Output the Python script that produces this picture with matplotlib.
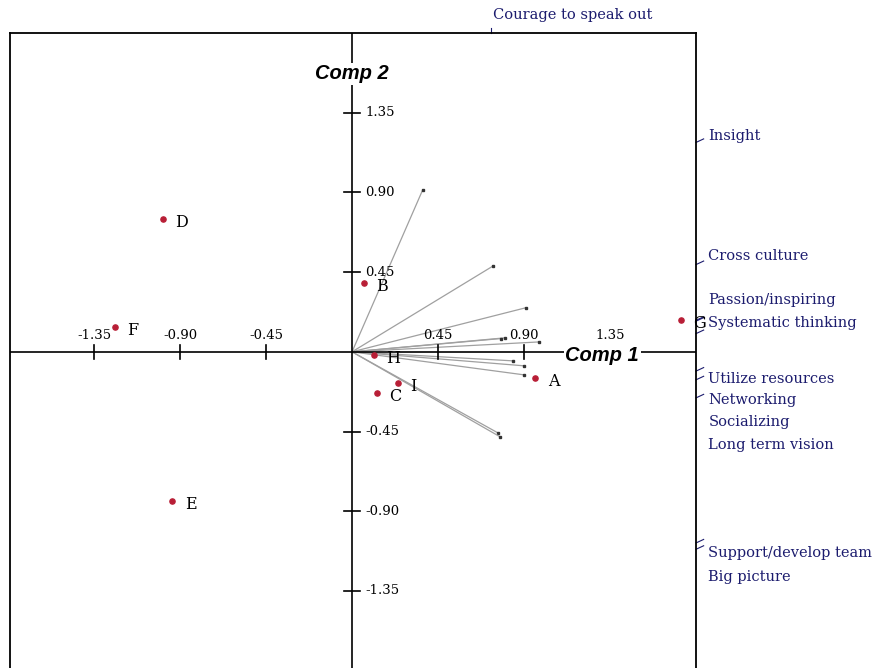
import matplotlib
matplotlib.use("Agg")
import matplotlib.pyplot as plt

# observations (scores on comp 1 / comp 2)
obs_names = ["A", "B", "C", "D", "E", "F", "G", "H", "I"]
obs_x = [0.96, 0.06, 0.13, -0.99, -0.94, -1.24, 1.72, 0.115, 0.24]
obs_y = [-0.147, 0.39, -0.23, 0.75, -0.84, 0.14, 0.18, -0.02, -0.175]

# variable loadings (arrow tips)
var_x = [0.37, 0.74, 0.91, 0.80, 0.98, 0.843, 0.90, 0.90, 0.78, 0.764, 0.775]
var_y = [0.915, 0.486, 0.249, 0.079, 0.056, -0.051, -0.079, -0.13, 0.075, -0.458, -0.48]

# labels placed along the frame
lab_names = ["Courage to speak out", "Insight", "Cross culture", "Passion/inspiring",
             "Systematic thinking", "Utilize resources", "Networking", "Socializing",
             "Long term vision", "Support/develop team", "Big picture"]
lab_y = [None, 1.22, 0.542, 0.294, 0.164, -0.153, -0.271, -0.395, -0.525, -1.136, -1.271]

ticks = [-1.35, -0.90, -0.45, 0.45, 0.90, 1.35]

XMIN, XMAX = -1.79, 1.80
YMIN, YMAX = -1.785, 1.80
NAVY = "#1c1c6e"

fig = plt.figure(figsize=(8.86, 6.68), dpi=100)
ax = fig.add_axes([10 / 886, 0, 686 / 886, 1 - 33 / 668])
ax.set_xlim(XMIN, XMAX)
ax.set_ylim(YMIN, YMAX)
ax.set_xticks([])
ax.set_yticks([])
for s in ["top", "left", "right"]:
    ax.spines[s].set_linewidth(1.3)
ax.spines["bottom"].set_visible(False)

# crossing axes
ax.axhline(0, color="black", lw=1.2, zorder=2)
ax.axvline(0, color="black", lw=1.2, zorder=2)

for t in ticks:
    ax.plot([t, t], [-0.04, 0.04], color="black", lw=1.2, zorder=2)
    ax.text(t, 0.095, f"{t:.2f}", ha="center", va="center", fontsize=9.5,
            family="DejaVu Serif")
    ax.plot([-0.04, 0.04], [t, t], color="black", lw=1.2, zorder=2)
    ax.text(0.07, t, f"{t:.2f}", ha="left", va="center", fontsize=9.5,
            family="DejaVu Serif")

ax.text(1.31, -0.02, "Comp 1", ha="center", va="center", fontsize=14.5,
        weight="bold", style="italic", family="Liberation Sans",
        bbox=dict(facecolor="white", edgecolor="none", pad=1), zorder=3)
ax.text(0.0, 1.57, "Comp 2", ha="center", va="center", fontsize=14.5,
        weight="bold", style="italic", family="Liberation Sans",
        bbox=dict(facecolor="white", edgecolor="none", pad=1), zorder=3)

# arrows for variables
for vx, vy in zip(var_x, var_y):
    ax.plot([0, vx], [0, vy], color="#a0a0a0", lw=0.9, zorder=1)
    ax.plot(vx, vy, marker="s", ms=2, color="#333333", zorder=1)

# labels along the frame with short leaders
for i, (name, ly) in enumerate(zip(lab_names, lab_y)):
    vx, vy = var_x[i], var_y[i]
    if ly is None:
        # hits the top edge
        t = YMAX / vy
        px = vx * t
        ax.plot([px, px], [YMAX, YMAX + 0.03], color=NAVY, lw=0.8, clip_on=False)
        ax.text(px + 0.01, YMAX + 0.10, name, ha="left", va="center", fontsize=10.5,
                family="DejaVu Serif", color=NAVY, clip_on=False)
        continue
    t = XMAX / vx
    py = vy * t
    ax.plot([XMAX, XMAX + 0.04], [py, py + 0.02], color=NAVY, lw=0.8, clip_on=False)
    ax.text(XMAX + 0.065, ly, name, ha="left", va="center", fontsize=10.5,
            family="DejaVu Serif", color=NAVY, clip_on=False)

# observation points
ax.scatter(obs_x, obs_y, s=14, color="#b81e36", zorder=4)
for n, x, y in zip(obs_names, obs_x, obs_y):
    ax.text(x + 0.065, y - 0.02, n, ha="left", va="center", fontsize=11.5,
            family="DejaVu Serif", zorder=4)

fig.savefig("out.png", dpi=100)
